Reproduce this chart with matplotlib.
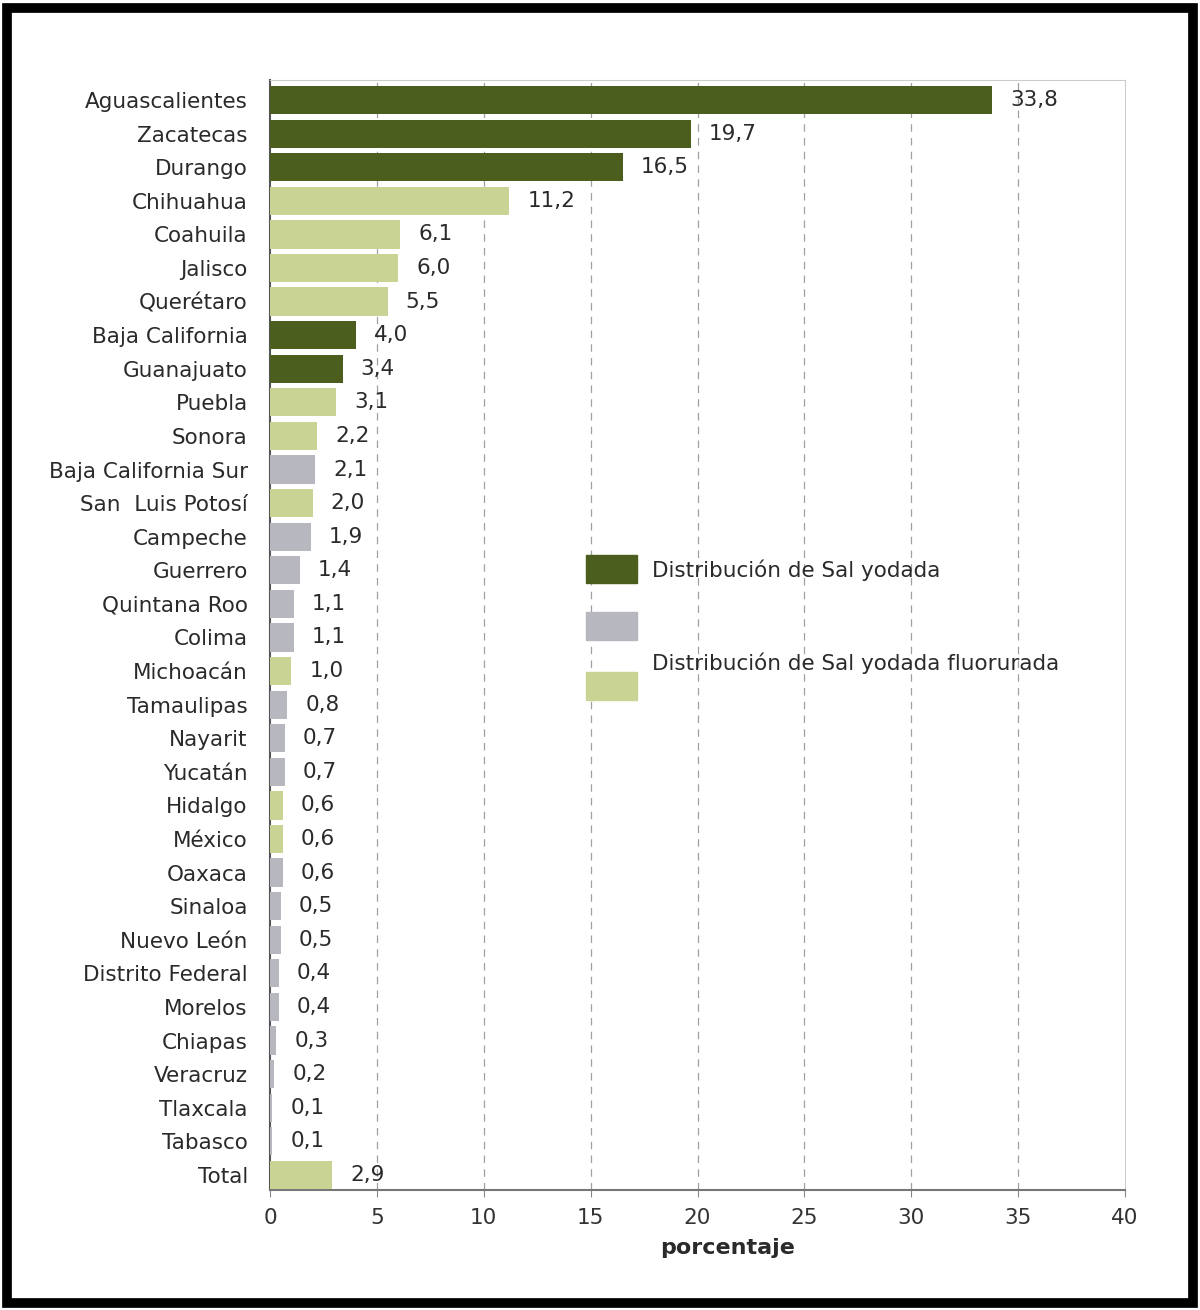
import matplotlib.pyplot as plt
from matplotlib.patches import Rectangle

# estados, porcentaje y tipo de sal (y = yodada, g = gris, f = fluorurada)
estados = ['Aguascalientes', 'Zacatecas', 'Durango', 'Chihuahua', 'Coahuila', 'Jalisco',
           'Querétaro', 'Baja California', 'Guanajuato', 'Puebla', 'Sonora',
           'Baja California Sur', 'San  Luis Potosí', 'Campeche', 'Guerrero', 'Quintana Roo',
           'Colima', 'Michoacán', 'Tamaulipas', 'Nayarit', 'Yucatán', 'Hidalgo', 'México',
           'Oaxaca', 'Sinaloa', 'Nuevo León', 'Distrito Federal', 'Morelos', 'Chiapas',
           'Veracruz', 'Tlaxcala', 'Tabasco', 'Total']
valores = [33.8, 19.7, 16.5, 11.2, 6.1, 6.0, 5.5, 4.0, 3.4, 3.1, 2.2, 2.1, 2.0, 1.9, 1.4,
           1.1, 1.1, 1.0, 0.8, 0.7, 0.7, 0.6, 0.6, 0.6, 0.5, 0.5, 0.4, 0.4, 0.3, 0.2, 0.1,
           0.1, 2.9]
tipo = ['y', 'y', 'y', 'f', 'f', 'f', 'f', 'y', 'y', 'f', 'f', 'g', 'f', 'g', 'g', 'g',
        'g', 'f', 'g', 'g', 'g', 'f', 'f', 'g', 'g', 'g', 'g', 'g', 'g', 'g', 'g', 'g', 'f']
xticks = [0, 5, 10, 15, 20, 25, 30, 35, 40]

colores = {'y': '#4b5e1e', 'g': '#b7b7c0', 'f': '#c9d393'}
fs = 15.5
tc = '#2a2a2a'

fig = plt.figure(figsize=(12, 13.1), dpi=100)
ax = fig.add_axes([0.225, 0.0916, 0.7125, 0.8474])

pos = list(range(len(estados)))
ax.barh(pos, valores, height=0.84, color=[colores[t] for t in tipo], zorder=3)
for p, v in zip(pos, valores):
    ax.annotate('{:.1f}'.format(v).replace('.', ','), (v, p), xytext=(13, 0),
                textcoords='offset points', va='center', ha='left', fontsize=fs,
                color=tc, zorder=4)

ax.set_ylim(len(estados) - 0.55, -0.6)
ax.set_xlim(0, 40)
ax.set_yticks(pos)
ax.set_yticklabels(estados, fontsize=fs, color=tc)
ax.set_xticks(xticks)
ax.set_xticklabels([str(x) for x in xticks], fontsize=fs, color='#333333')
ax.tick_params(axis='y', length=0, pad=16)
ax.tick_params(axis='x', length=5, color='#888888', pad=8)
for x in xticks[1:-1]:
    ax.axvline(x, color='#a0a0a0', linestyle=(0, (6, 5)), linewidth=0.9, zorder=1)
for s in ['top', 'right']:
    ax.spines[s].set_color('#cccccc')
ax.spines['left'].set_color('#555555')
ax.spines['bottom'].set_color('#777777')
ax.spines['left'].set_linewidth(1.5)
ax.spines['bottom'].set_linewidth(1.5)
ax.set_xlabel('porcentaje', fontsize=16, fontweight='bold', color=tc, labelpad=2)
ax.xaxis.set_label_coords(0.535, -0.043)

# leyenda
for yy, t in [(0.555, 'y'), (0.5115, 'g'), (0.4656, 'f')]:
    fig.add_artist(Rectangle((0.488, yy), 0.043, 0.0214, transform=fig.transFigure,
                             color=colores[t], zorder=5))
fig.text(0.543, 0.5649, 'Distribución de Sal yodada', fontsize=fs, color=tc, va='center')
fig.text(0.543, 0.4939, 'Distribución de Sal yodada fluorurada', fontsize=fs, color=tc,
         va='center')

# marco negro
fig.add_artist(Rectangle((0.006, 0.005), 0.988, 0.989, transform=fig.transFigure,
                         fill=False, edgecolor='black', linewidth=7))

fig.savefig('out.png', dpi=100)
